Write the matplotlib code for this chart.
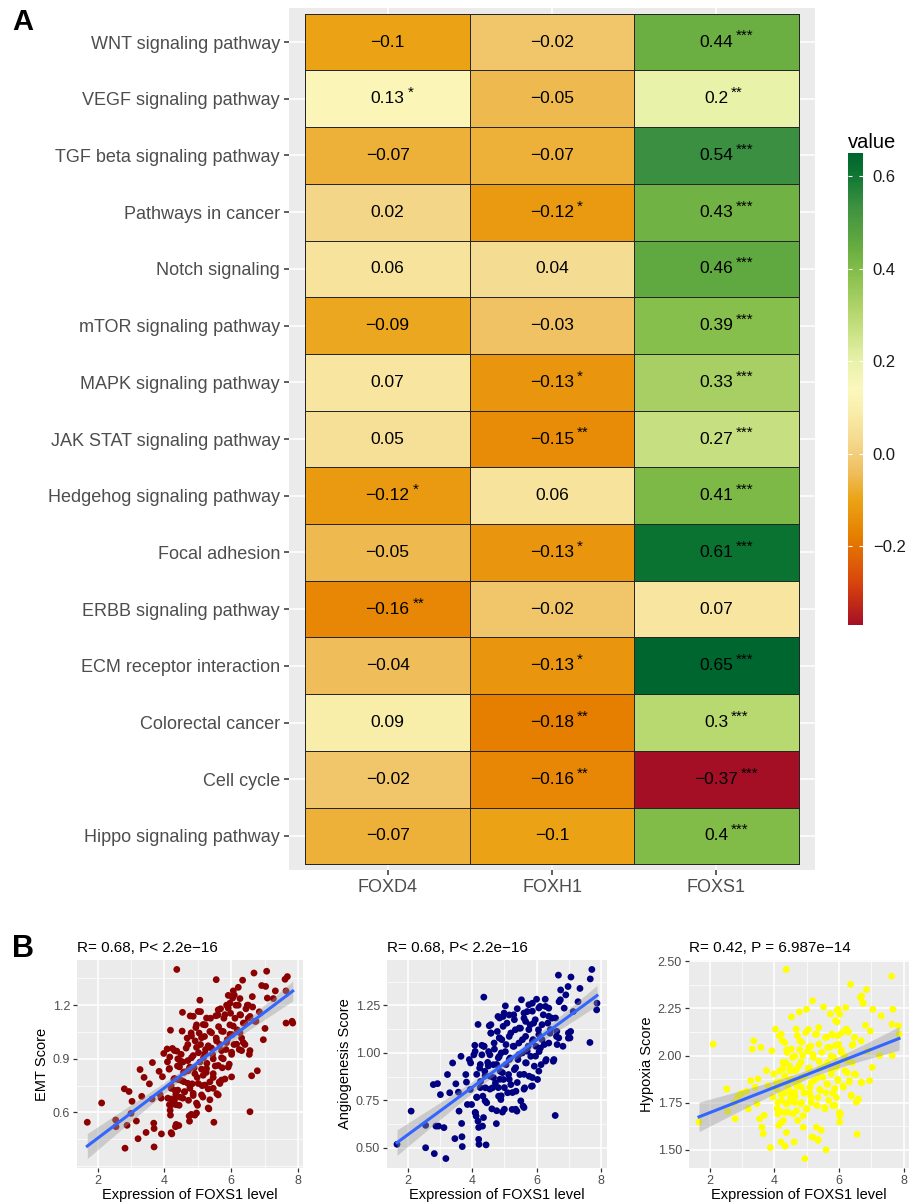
import numpy as np
import matplotlib
matplotlib.use("Agg")
import matplotlib.pyplot as plt
from matplotlib.colors import LinearSegmentedColormap, Normalize
from matplotlib.ticker import FixedLocator, MultipleLocator

plt.rcParams['font.family'] = ['Liberation Sans', 'DejaVu Sans']

# ---------------- Panel A data ----------------
pathways = ["WNT signaling pathway", "VEGF signaling pathway", "TGF beta signaling pathway",
            "Pathways in cancer", "Notch signaling", "mTOR signaling pathway",
            "MAPK signaling pathway", "JAK STAT signaling pathway", "Hedgehog signaling pathway",
            "Focal adhesion", "ERBB signaling pathway", "ECM receptor interaction",
            "Colorectal cancer", "Cell cycle", "Hippo signaling pathway"]
genes = ["FOXD4", "FOXH1", "FOXS1"]
foxd4 = [-0.1, 0.13, -0.07, 0.02, 0.06, -0.09, 0.07, 0.05, -0.12, -0.05, -0.16, -0.04, 0.09, -0.02, -0.07]
foxd4_sig = ["", "*", "", "", "", "", "", "", "*", "", "**", "", "", "", ""]
foxh1 = [-0.02, -0.05, -0.07, -0.12, 0.04, -0.03, -0.13, -0.15, 0.06, -0.13, -0.02, -0.13, -0.18, -0.16, -0.1]
foxh1_sig = ["", "", "", "*", "", "", "*", "**", "", "*", "", "*", "**", "**", ""]
foxs1 = [0.44, 0.2, 0.54, 0.43, 0.46, 0.39, 0.33, 0.27, 0.41, 0.61, 0.07, 0.65, 0.3, -0.37, 0.4]
foxs1_sig = ["***", "**", "***", "***", "***", "***", "***", "***", "***", "***", "", "***", "***", "***", "***"]
colorbar_ticks = [-0.2, 0.0, 0.2, 0.4, 0.6]

# ---------------- Panel B data ----------------
emt_x = [1.69, 2.12, 2.54, 2.55, 2.80, 2.94, 2.82, 2.88, 3.00, 3.03,
         3.16, 3.21, 3.27, 3.32, 3.39, 3.45, 3.55, 3.64, 3.63, 3.68,
         3.69, 3.69, 3.84, 3.87, 3.90, 3.91, 3.94, 3.98, 4.09, 4.14,
         4.16, 4.18, 4.20, 4.22, 4.20, 4.22, 4.17, 4.18, 4.24, 4.28,
         4.32, 4.33, 4.34, 4.37, 4.37, 4.39, 4.42, 4.43, 4.44, 4.46,
         4.48, 4.50, 4.53, 4.54, 4.57, 4.58, 4.60, 4.65, 4.68, 4.70,
         4.71, 4.72, 4.74, 4.77, 4.80, 4.81, 4.83, 4.86, 4.89, 4.91,
         4.92, 4.96, 4.98, 4.99, 5.02, 5.04, 5.06, 5.08, 5.08, 5.11,
         5.13, 5.15, 5.17, 5.20, 5.22, 5.23, 5.25, 5.27, 5.31, 5.33,
         5.36, 5.38, 5.41, 5.44, 5.46, 5.48, 5.52, 5.55, 5.55, 5.57,
         5.60, 5.62, 5.64, 5.66, 5.68, 5.71, 5.73, 5.76, 5.78, 5.81,
         5.84, 5.86, 5.88, 5.91, 5.94, 5.96, 5.98, 6.01, 6.03, 6.06,
         6.08, 6.11, 6.14, 6.18, 6.21, 6.24, 6.26, 6.28, 6.31, 6.34,
         6.36, 6.41, 6.44, 6.48, 6.51, 6.54, 6.56, 6.61, 6.64, 6.68,
         6.74, 6.78, 6.84, 6.91, 6.96, 7.01, 7.03, 7.06, 7.08, 7.26,
         7.32, 7.61, 7.64, 7.64, 7.68, 7.82, 7.84,
         6.09, 6.04, 6.63, 5.96, 6.21, 6.51, 5.61, 5.91, 5.01, 6.26,
         6.56, 5.81, 5.54, 5.26, 4.86, 6.41, 6.71, 6.06, 5.16, 4.94,
         5.71, 5.41, 5.96, 6.26, 4.81, 5.11, 5.56, 5.86, 6.16, 6.36,
         5.31, 4.96, 5.71, 6.01, 6.31, 5.21, 4.86, 5.46, 5.76, 6.56,
         5.06, 5.61, 5.91, 5.26, 4.76, 4.91, 5.16, 5.46, 6.01, 5.71,
         5.36, 5.01, 5.21, 4.76, 5.66, 4.86, 5.46, 5.11, 5.61, 4.96,
         5.36, 5.31, 4.81, 4.96,
         4.08, 4.30, 4.40, 4.55, 4.70, 4.75, 4.60, 4.45, 4.15, 4.30,
         4.50, 4.70, 4.20, 4.40, 4.60, 4.10, 4.30, 4.15, 4.35, 4.55,
         4.80, 4.75, 4.35, 4.20]
emt_y = [0.545, 0.653, 0.558, 0.52, 0.732, 0.717, 0.40, 0.528, 0.595, 0.662,
         0.552, 0.453, 0.84, 0.69, 0.796, 0.488, 0.76, 0.879, 0.675, 0.54,
         0.407, 0.51, 0.83, 0.70, 0.68, 0.48, 0.80, 0.93, 0.883, 0.842,
         0.91, 1.06, 0.75, 0.644, 0.675, 0.48, 0.612, 0.585, 0.958, 0.785,
         0.723, 0.52, 0.70, 1.40, 0.943, 0.86, 0.783, 0.527, 0.64, 0.686,
         0.888, 0.925, 1.055, 1.16, 0.824, 0.772, 0.715, 0.96, 1.016, 0.98,
         0.833, 0.668, 0.58, 1.14, 1.045, 0.906, 0.76, 0.695, 0.85, 0.585,
         1.0, 1.09, 0.796, 0.64, 0.934, 1.044, 1.228, 1.164, 0.98, 0.842,
         0.75, 0.686, 0.906, 1.025, 1.09, 0.952, 0.824, 0.875, 0.732, 0.62,
         1.053, 1.127, 0.96, 0.925, 0.796, 0.545, 0.86, 1.343, 1.016, 0.705,
         1.145, 1.08, 0.77, 0.98, 1.18, 0.906, 0.85, 1.053, 1.127, 0.787,
         0.952, 1.20, 1.007, 1.255, 0.87, 1.09, 1.155, 0.925, 1.035, 1.28,
         0.98, 1.127, 1.20, 1.062, 1.30, 0.952, 1.237, 1.145, 1.016, 1.34,
         1.10, 0.98, 1.18, 1.20, 1.127, 0.925, 0.604, 0.805, 1.19, 1.38,
         1.11, 0.833, 1.163, 1.31, 1.007, 1.07, 1.305, 1.39, 1.24, 1.237,
         1.28, 1.345, 1.28, 1.10, 1.36, 1.11, 1.10,
         1.257, 1.24, 1.248, 1.211, 1.20, 1.20, 1.174, 1.183, 1.165, 1.147,
         1.137, 1.147, 1.141, 1.128, 1.138, 1.10, 1.11, 1.083, 1.092, 1.075,
         1.055, 1.046, 1.037, 1.046, 1.028, 1.018, 1.0, 0.991, 0.982, 0.991,
         0.973, 0.964, 0.946, 0.937, 0.946, 0.928, 0.918, 0.9, 0.9, 0.946,
         0.882, 0.863, 0.854, 0.845, 0.854, 0.817, 0.808, 0.817, 0.799, 0.781,
         0.771, 0.762, 0.753, 0.735, 0.762, 0.707, 0.735, 0.698, 0.698, 0.652,
         0.671, 0.625, 0.588, 0.597,
         0.955, 0.946, 0.90, 0.882, 0.89, 0.846, 0.827, 0.855, 0.846, 0.79,
         0.78, 0.763, 0.735, 0.725, 0.716, 0.68, 0.67, 0.643, 0.643, 0.68,
         0.588, 0.551, 0.533, 0.487]

ang_x = [1.66, 2.10, 2.55, 2.55, 2.79, 2.92, 2.82, 2.87, 2.95, 3.01,
         3.12, 3.18, 3.23, 3.30, 3.39, 3.46, 3.49, 3.57, 3.59, 3.65,
         3.67, 3.68, 3.69, 3.80, 3.82, 3.85, 3.91, 3.94, 3.95, 3.98,
         4.05, 4.08, 4.10, 4.12, 4.14, 4.18, 4.18, 4.20, 4.21, 4.23,
         4.26, 4.30, 4.32, 4.33, 4.36, 4.36, 4.39, 4.41, 4.43, 4.45,
         4.48, 4.51, 4.53, 4.56, 4.58, 4.61, 4.63, 4.66, 4.69, 4.72,
         4.75, 4.78, 4.80, 4.82, 4.84, 4.87, 4.89, 4.92, 4.94, 4.97,
         4.99, 5.03, 5.03, 5.05, 5.08, 5.10, 5.13, 5.15, 5.18, 5.20,
         5.24, 5.27, 5.29, 5.31, 5.34, 5.36, 5.39, 5.42, 5.45, 5.48,
         5.50, 5.53, 5.56, 5.58, 5.61, 5.63, 5.66, 5.68, 5.71, 5.74,
         5.77, 5.80, 5.82, 5.84, 5.87, 5.89, 5.93, 5.96, 5.98, 6.00,
         6.03, 6.06, 6.08, 6.11, 6.14, 6.17, 6.21, 6.24, 6.27, 6.30,
         6.35, 6.38, 6.42, 6.48, 6.52, 6.58, 6.62, 6.68, 6.70, 6.75,
         6.82, 6.86, 6.91, 6.98, 6.99, 7.06, 7.07, 7.14, 7.29, 7.35,
         7.66, 7.67, 7.72, 7.87, 7.88,
         5.40, 5.76, 6.28, 6.74, 5.15, 5.61, 5.87, 6.07, 6.38, 6.59,
         4.85, 5.31, 5.66, 5.91, 6.17, 6.63, 6.99, 7.04, 4.96, 5.46,
         5.76, 6.43, 5.20, 6.07, 6.69, 4.85, 5.56, 5.87, 6.38, 5.05,
         5.30, 6.12, 6.64, 5.71, 4.90, 5.45, 5.97, 5.15, 6.28, 6.54,
         5.66, 6.07, 5.35, 4.94, 5.61, 5.87, 5.15, 5.40, 5.87, 5.00,
         5.61, 5.25, 4.90, 5.51, 5.00, 5.35, 5.61,
         4.58, 4.58, 4.96, 4.37, 4.68, 4.84, 4.09, 4.30, 4.55, 4.81,
         4.25, 4.50, 4.76, 4.14, 4.40, 4.66, 4.86, 4.25, 4.55, 4.81,
         4.14, 4.40, 4.09, 4.35, 4.76, 4.20]
ang_y = [0.518, 0.693, 0.50, 0.618, 0.833, 0.838, 0.469, 0.614, 0.614, 0.78,
         0.606, 0.443, 0.886, 0.79, 0.947, 0.548, 0.837, 0.793, 0.693, 0.982,
         0.628, 0.558, 0.506, 0.886, 0.846, 0.728, 0.965, 0.807, 0.947, 0.728,
         0.99, 1.04, 0.685, 0.667, 0.767, 1.15, 0.64, 0.544, 0.518, 0.92,
         0.85, 1.04, 0.614, 0.772, 1.294, 1.035, 0.903, 0.816, 0.515, 0.737,
         0.95, 1.007, 1.143, 0.877, 1.104, 0.705, 0.816, 0.938, 1.02, 0.842,
         0.627, 1.113, 1.192, 0.772, 0.982, 0.903, 0.754, 1.07, 0.688, 0.86,
         1.21, 1.248, 1.007, 0.938, 1.157, 0.79, 0.886, 1.087, 0.973, 0.833,
         0.702, 1.035, 1.201, 0.912, 1.122, 0.798, 0.693, 0.965, 1.052, 0.886,
         1.13, 1.28, 1.00, 0.72, 1.183, 0.816, 1.087, 0.947, 1.218, 1.035,
         0.877, 1.148, 0.982, 0.824, 1.262, 1.07, 0.93, 1.175, 1.035, 1.283,
         0.86, 1.122, 1.007, 1.245, 0.938, 1.07, 1.201, 1.044, 1.283, 0.965,
         1.157, 1.236, 1.104, 1.183, 0.956, 0.67, 1.087, 1.41, 1.27, 1.332,
         1.035, 1.236, 1.306, 1.35, 1.078, 1.113, 1.40, 1.218, 1.27, 1.34,
         1.055, 1.39, 1.44, 1.227, 1.262,
         1.233, 1.254, 1.245, 1.28, 1.20, 1.21, 1.22, 1.237, 1.193, 1.184,
         1.184, 1.175, 1.166, 1.157, 1.149, 1.114, 1.105, 1.079, 1.14, 1.131,
         1.123, 1.123, 1.105, 1.096, 1.079, 1.079, 1.07, 1.061, 1.052, 1.044,
         1.035, 1.026, 1.044, 1.009, 1.0, 0.991, 0.983, 0.965, 0.957, 0.965,
         0.948, 0.904, 0.922, 0.896, 0.887, 0.87, 0.861, 0.844, 0.826, 0.817,
         0.809, 0.791, 0.774, 0.747, 0.703, 0.703, 0.712,
         1.149, 1.105, 1.192, 1.035, 1.052, 1.079, 1.008, 0.99, 0.99, 0.974,
         0.939, 0.931, 0.939, 0.887, 0.879, 0.87, 0.861, 0.817, 0.809, 0.817,
         0.765, 0.747, 0.686, 0.659, 0.695, 0.607]

hyp_x = [1.66, 2.10, 2.52, 2.55, 2.75, 2.78, 2.86, 2.93, 2.98, 3.13,
         3.19, 3.26, 3.31, 3.36, 3.40, 3.46, 3.49, 3.54, 3.58, 3.61,
         3.65, 3.68, 3.75, 3.80, 3.87, 3.92, 3.95, 3.98, 4.03, 4.06,
         4.08, 4.11, 4.13, 4.15, 4.18, 4.20, 4.22, 4.24, 4.26, 4.28,
         4.31, 4.33, 4.34, 4.36, 4.38, 4.41, 4.44, 4.46, 4.48, 4.51,
         4.53, 4.56, 4.58, 4.61, 4.63, 4.67, 4.69, 4.72, 4.75, 4.77,
         4.79, 4.82, 4.84, 4.87, 4.89, 4.92, 4.94, 4.97, 4.99, 5.01,
         5.04, 5.07, 5.10, 5.13, 5.16, 5.18, 5.20, 5.23, 5.27, 5.30,
         5.32, 5.35, 5.37, 5.40, 5.42, 5.45, 5.47, 5.50, 5.52, 5.56,
         5.58, 5.60, 5.62, 5.65, 5.68, 5.71, 5.73, 5.76, 5.78, 5.81,
         5.84, 5.87, 5.89, 5.92, 5.94, 5.97, 5.99, 6.02, 6.04, 6.07,
         6.10, 6.14, 6.18, 6.21, 6.23, 6.27, 6.32, 6.36, 6.38, 6.43,
         6.47, 6.54, 6.56, 6.60, 6.66, 6.70, 6.74, 6.82, 6.85, 6.95,
         6.97, 7.03, 7.05, 7.26, 7.31, 7.63, 7.65, 7.67, 7.64, 7.84,
         7.86,
         6.70, 6.75, 5.97, 6.02, 5.94, 5.05, 6.29, 4.71, 5.30, 5.61,
         5.81, 5.97, 6.48, 6.69, 4.85, 5.13, 5.38, 5.89, 6.41, 4.78,
         5.03, 5.65, 6.07, 6.89, 4.63, 5.19, 5.76, 6.17, 4.82, 5.38,
         5.54, 5.94, 6.41, 5.09, 4.68, 5.76, 6.25, 4.94, 5.35, 5.96,
         6.52, 4.63, 5.14, 5.65, 6.32, 6.69, 4.84, 5.40, 5.87, 6.12,
         5.09, 5.60, 4.63, 5.35, 5.92, 6.38, 4.84, 5.14, 6.59, 5.55,
         5.81, 6.02, 4.68, 4.99, 4.89, 6.02, 5.19, 5.35,
         4.21, 4.32, 4.39, 4.52, 4.26, 4.47, 4.63, 4.16, 4.32, 4.52,
         4.73, 4.06, 4.42, 4.63, 4.21, 4.50, 4.11, 4.37, 4.63, 4.16,
         4.32, 4.21, 4.37]
hyp_y = [1.648, 2.06, 1.823, 1.705, 1.75, 1.665, 1.78, 1.794, 1.80, 1.81,
         1.718, 1.867, 2.034, 2.078, 1.832, 1.744, 1.876, 1.665, 2.043, 1.62,
         1.586, 1.683, 1.92, 1.84, 1.512, 2.025, 1.78, 1.902, 2.14, 1.823,
         1.718, 1.69, 1.63, 2.104, 1.86, 1.542, 1.762, 2.078, 1.93, 1.656,
         1.80, 1.52, 1.964, 2.456, 2.03, 1.70, 1.753, 1.867, 1.92, 1.806,
         2.205, 1.99, 1.69, 1.542, 1.78, 2.14, 1.84, 1.656, 1.946, 2.231,
         2.078, 1.744, 1.885, 2.0, 1.62, 1.80, 1.454, 2.122, 2.245, 1.718,
         1.93, 2.043, 1.832, 1.78, 1.568, 2.29, 1.99, 1.867, 2.113, 1.62,
         1.735, 1.555, 2.148, 1.93, 1.815, 1.604, 2.017, 1.885, 2.257, 1.718,
         2.096, 1.50, 1.85, 1.964, 1.762, 2.043, 2.22, 1.902, 2.113, 1.80,
         1.99, 1.735, 2.184, 1.937, 2.24, 1.867, 2.06, 1.648, 1.69, 2.017,
         2.122, 1.832, 1.92, 2.254, 2.14, 1.97, 1.867, 2.377, 1.79, 2.06,
         1.902, 1.753, 1.583, 1.77, 2.307, 1.858, 2.28, 2.16, 2.35, 1.867,
         2.13, 1.937, 2.245, 2.0, 2.21, 2.42, 2.0, 2.245, 2.166, 2.157,
         2.113,
         2.315, 2.276, 2.245, 2.219, 2.178, 2.138, 2.125, 2.105, 2.113, 2.096,
         2.108, 2.105, 2.096, 2.078, 2.07, 2.05, 2.06, 2.053, 2.053, 2.032,
         2.024, 2.042, 2.029, 2.024, 1.997, 2.006, 1.997, 1.997, 1.965, 1.97,
         1.944, 1.953, 1.962, 1.935, 1.926, 1.918, 1.909, 1.891, 1.883, 1.874,
         1.9, 1.865, 1.856, 1.847, 1.86, 1.856, 1.83, 1.821, 1.825, 1.838,
         1.803, 1.803, 1.785, 1.777, 1.777, 1.785, 1.751, 1.751, 1.765, 1.725,
         1.734, 1.699, 1.708, 1.716, 1.681, 1.681, 1.567, 1.55,
         2.113, 2.069, 2.016, 2.034, 1.963, 1.945, 1.919, 1.919, 1.892, 1.875,
         1.857, 1.857, 1.831, 1.804, 1.795, 1.778, 1.751, 1.742, 1.751, 1.706,
         1.698, 1.645, 1.592]

# ---------------- Figure ----------------
W, H = 909, 1202
fig = plt.figure(figsize=(W / 100, H / 100), dpi=100)


def rect(x0, y0, x1, y1):
    return [x0 / W, 1 - y1 / H, (x1 - x0) / W, (y1 - y0) / H]


GRAY_BG = '#EBEBEB'
TXT_GRAY = '#4D4D4D'

# colour scale (style)
anchor_vals = [-0.37, -0.28, -0.18, -0.10, -0.04, 0.02, 0.09, 0.14, 0.20, 0.30, 0.40, 0.46, 0.54, 0.61, 0.65]
anchor_cols = ['#A50F25', '#D8440C', '#E67E00', '#EBA315', '#EFBE5C', '#F4D68A', '#F9EDAA', '#FBF8BC',
               '#E8F2AA', '#B8D870', '#82BC48', '#60A840', '#3A9040', '#0B7331', '#006630']
M = np.array([foxd4, foxh1, foxs1]).T
vmin, vmax = M.min(), M.max()
pos = [(v - vmin) / (vmax - vmin) for v in anchor_vals]
pos[0], pos[-1] = 0.0, 1.0
cmap = LinearSegmentedColormap.from_list('fox', list(zip(pos, anchor_cols)), N=512)
norm = Normalize(vmin=vmin, vmax=vmax)

axh = fig.add_axes(rect(289, 8, 815, 870))
axh.set_facecolor(GRAY_BG)
axh.set_axisbelow(True)
mesh = axh.pcolormesh(np.arange(len(genes) + 1) - 0.5, np.arange(len(pathways) + 1) - 0.5, M,
                      cmap=cmap, norm=norm, edgecolors='#262626', linewidth=0.55, zorder=2)
axh.set_xlim(-0.6, len(genes) - 0.4)
axh.set_ylim(len(pathways) - 0.4, -0.6)
axh.set_xticks(range(len(genes)))
axh.set_xticklabels(genes)
axh.set_yticks(range(len(pathways)))
axh.set_yticklabels(pathways)
axh.grid(True, color='white', linewidth=1.1, zorder=0)
for s in axh.spines.values():
    s.set_visible(False)
axh.tick_params(length=3.5, width=1.1, color='#333333', labelcolor=TXT_GRAY, labelsize=13, pad=3)

sigs = [foxd4_sig, foxh1_sig, foxs1_sig]
for j in range(len(genes)):
    for i in range(len(pathways)):
        v = M[i, j]
        lab = f"{v:g}".replace('-', '\u2212')
        t = axh.text(j, i, lab, ha='center', va='center', fontsize=12.5, color='black', zorder=5)
        if sigs[j][i]:
            axh.annotate(sigs[j][i], xy=(1.0, 0.62), xycoords=t, xytext=(2, 0),
                         textcoords='offset points', ha='left', va='baseline',
                         fontsize=11, color='black', zorder=6)

# colour bar
cax = fig.add_axes(rect(848, 153, 863, 625))
cb = fig.colorbar(mesh, cax=cax, ticks=colorbar_ticks)
cb.outline.set_visible(False)
cb.set_ticklabels([f"{t:.1f}".replace('-', '\u2212') for t in colorbar_ticks])
cax.tick_params(direction='in', length=3, width=0.8, color='white', labelsize=12,
                labelcolor='#1a1a1a', pad=7, left=True, right=True)
fig.text(848 / W, 1 - 143 / H, 'value', fontsize=14.5, ha='left', va='center', color='black')

# panel letters
fig.text(12 / W, 1 - 22 / H, 'A', fontsize=21, fontweight='bold', va='center', ha='left')
fig.text(12 / W, 1 - 949 / H, 'B', fontsize=22, fontweight='bold', va='center', ha='left')


def scatter_panel(r, xs, ys, color, ylabel, title, yticks, ystep):
    ax = fig.add_axes(r)
    ax.set_facecolor(GRAY_BG)
    ax.set_axisbelow(True)
    x = np.asarray(xs, float)
    y = np.asarray(ys, float)
    ax.scatter(x, y, s=24, color=color, edgecolors='none', zorder=3)
    slope, icpt = np.polyfit(x, y, 1)
    xg = np.linspace(x.min(), x.max(), 80)
    yg = icpt + slope * xg
    n = len(x)
    resid = y - (icpt + slope * x)
    sres = np.sqrt(np.sum(resid ** 2) / (n - 2))
    se = sres * np.sqrt(1.0 / n + (xg - x.mean()) ** 2 / np.sum((x - x.mean()) ** 2))
    tq = 1.97
    ax.fill_between(xg, yg - tq * se, yg + tq * se, color='#999999', alpha=0.4, lw=0, zorder=4)
    ax.plot(xg, yg, color='#3366FF', lw=2.2, zorder=5)
    ax.margins(0.05)
    ax.xaxis.set_major_locator(FixedLocator([2, 4, 6, 8]))
    ax.xaxis.set_minor_locator(MultipleLocator(1))
    ax.yaxis.set_major_locator(FixedLocator(yticks))
    ax.yaxis.set_minor_locator(MultipleLocator(ystep / 2))
    ax.grid(which='major', color='white', lw=1.1, zorder=0)
    ax.grid(which='minor', color='white', lw=0.5, zorder=0)
    for s in ax.spines.values():
        s.set_visible(False)
    ax.tick_params(which='major', length=3, width=0.9, color='#333333', labelcolor=TXT_GRAY,
                   labelsize=9, pad=2)
    ax.tick_params(which='minor', length=0)
    ax.set_xticklabels(['2', '4', '6', '8'])
    ax.set_xlabel('Expression of FOXS1 level', fontsize=10.5, labelpad=1)
    ax.set_ylabel(ylabel, fontsize=10.5, labelpad=3)
    ax.set_title(title, loc='left', fontsize=11, pad=6)
    return ax


scatter_panel(rect(77, 960, 303, 1168), emt_x, emt_y, '#8B0000', 'EMT Score',
              'R= 0.68, P< 2.2e\u221216', [0.6, 0.9, 1.2], 0.3)
scatter_panel(rect(387, 960, 607, 1168), ang_x, ang_y, '#000080', 'Angiogenesis Score',
              'R= 0.68, P< 2.2e\u221216', [0.50, 0.75, 1.00, 1.25], 0.25)
scatter_panel(rect(689, 960, 909, 1168), hyp_x, hyp_y, '#FFFF00', 'Hypoxia Score',
              'R= 0.42, P = 6.987e\u221214', [1.50, 1.75, 2.00, 2.25, 2.50], 0.25)

fig.savefig('out.png', dpi=100)
